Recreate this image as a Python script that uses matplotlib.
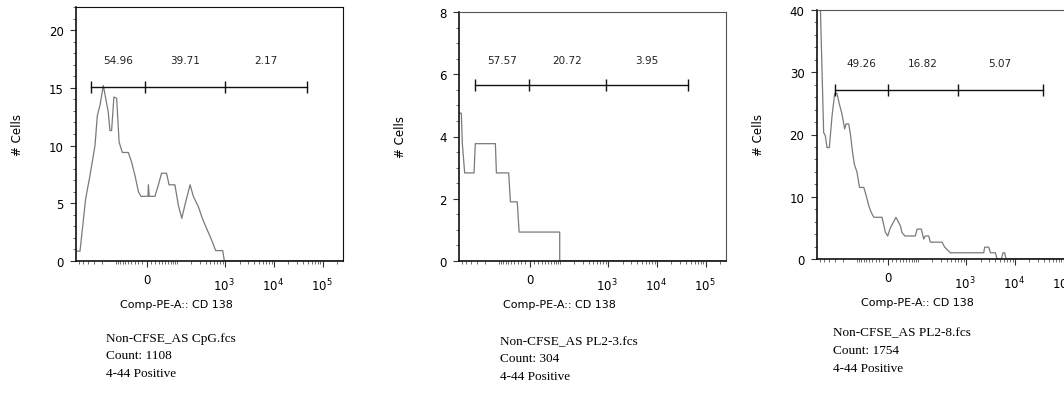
import numpy as np
import matplotlib
matplotlib.use("Agg")
import matplotlib.pyplot as plt
from matplotlib.ticker import FixedLocator, NullFormatter
from matplotlib.transforms import offset_copy

plt.rcParams['font.family'] = ['DejaVu Sans']
plt.rcParams['mathtext.fontset'] = 'dejavusans'

# ---- data (CD138 fluorescence, # cells) ----
cpg_x = [-700, -579, -443, -361, -284, -254, -223, -190, -149, -137, -126, -112, -97, -85,
         -71, -49, -38, -29, -20, -13.5, 0, 3, 4, 6, 20, 29, 38, 54, 63, 88, 106, 126, 153,
         190, 223, 284, 343, 422, 535, 647, 900, 975, 262144]
cpg_y = [0.85, 0.85, 5.4, 7.4, 10.0, 12.6, 13.5, 15.2, 12.9, 11.3, 11.3, 14.2, 14.1, 10.3,
         9.4, 9.4, 8.5, 7.4, 6.0, 5.6, 5.6, 5.6, 6.6, 5.6, 5.6, 6.6, 7.6, 7.6, 6.6, 6.6, 4.8,
         3.7, 5.1, 6.6, 5.6, 4.7, 3.7, 2.8, 1.8, 0.9, 0.9, 0, 0]

pl23_x = [-700, -627, -598, -535, -343, -323, -121, -115, -58, -52, -31, -26, 97, 97, 262144]
pl23_y = [4.75, 4.75, 3.77, 2.83, 2.83, 3.77, 3.77, 2.83, 2.83, 1.9, 1.9, 0.93, 0.93, 0, 0]

pl28_x = [-618, -511, -472, -436, -390, -343, -302, -271, -242, -213, -187, -175, -153, -141,
          -126, -115, -100, -88, -69, -60, -51, -43, -35, -13.5, -5.5, 0, 6.3, 20, 32, 36, 45,
          85, 94, 117, 132, 143, 169, 184, 323, 366, 479, 2315, 2425, 2930, 3170, 4015, 4340,
          5330, 5760, 6235, 6640, 262144]
pl28_y = [45, 20.3, 19.8, 17.9, 17.9, 23.0, 26.6, 26.6, 24.9, 23.3, 20.9, 21.7, 21.7, 20.1,
          17.1, 15.2, 13.9, 11.5, 11.5, 10.2, 8.6, 7.5, 6.7, 6.7, 4.3, 3.7, 5.0, 6.7, 5.3, 4.3,
          3.7, 3.7, 4.8, 4.8, 3.2, 3.7, 3.7, 2.7, 2.7, 1.9, 1.0, 1.0, 1.9, 1.9, 1.0, 1.0, 0,
          0, 1.0, 1.0, 0, 0]

gates_cpg = [-348, -4.7, 991, 47500]
gates_pl23 = [-333, -2.4, 900, 43100]
gates_pl28 = [-302, 0, 677, 37400]

pct_cpg = ["54.96", "39.71", "2.17"]
pct_pl23 = ["57.57", "20.72", "3.95"]
pct_pl28 = ["49.26", "16.82", "5.07"]

files = ["Non-CFSE_AS CpG.fcs", "Non-CFSE_AS PL2-3.fcs", "Non-CFSE_AS PL2-8.fcs"]
counts = [1108, 304, 1754]

decades = [1e3, 1e4, 1e5]
decade_labels = ['$10^3$', '$10^4$', '$10^5$']

# ---- biexponential-like display transform ----
W = 50.0


def fwd(x):
    return np.arcsinh(np.asarray(x, dtype=float) / W)


def inv(u):
    return W * np.sinh(np.asarray(u, dtype=float))


minor_x = []
for n in range(1, 5):
    for k in range(1, 10):
        minor_x.append(k * 10 ** n)
        if k * 10 ** n < 700:
            minor_x.append(-k * 10 ** n)
minor_x += [100000, 200000]

panels = [
    dict(pos=[76, 8, 267, 254], x=cpg_x, y=cpg_y, ymax=22, ymaj=5, ymin=1,
         gates=gates_cpg, gy=15.1, pct=pct_cpg, ty=17.4, spine='#111111',
         txt=(106, [339, 356, 374])),
    dict(pos=[459, 13, 267, 249], x=pl23_x, y=pl23_y, ymax=8, ymaj=2, ymin=0.5,
         gates=gates_pl23, gy=5.65, pct=pct_pl23, ty=6.46, spine='#555555',
         txt=(500, [342, 359, 377])),
    dict(pos=[817, 11, 267, 249], x=pl28_x, y=pl28_y, ymax=40, ymaj=10, ymin=2,
         gates=gates_pl28, gy=27.1, pct=pct_pl28, ty=31.5, spine='#555555',
         txt=(833, [333, 351, 369])),
]

FW, FH = 1064, 410
fig = plt.figure(figsize=(FW / 100, FH / 100), dpi=100)

for i, p in enumerate(panels):
    l, t, w, h = p['pos']
    ax = fig.add_axes([l / FW, 1 - (t + h) / FH, w / FW, h / FH])
    ax.set_xscale('function', functions=(fwd, inv))
    ax.set_xlim(-700, 262144)
    ax.set_ylim(0, p['ymax'])

    ax.plot(p['x'], p['y'], color='#7a7a7a', lw=0.9)

    # gate bar with end ticks
    g = p['gates']
    ax.plot(g, [p['gy']] * len(g), color='#111111', lw=1.0, marker='|', ms=8, mew=1.0)
    for j, lab in enumerate(p['pct']):
        cx = inv((fwd(g[j]) + fwd(g[j + 1])) / 2)
        ax.text(cx, p['ty'], lab, ha='center', va='center', fontsize=7.5, color='#222222')

    ax.xaxis.set_major_locator(FixedLocator([0] + decades))
    ax.set_xticklabels(['0', '', '', ''])
    # decade labels sit a bit lower than the "0" label, as in FlowJo
    lab_tr = offset_copy(ax.get_xaxis_transform(), fig=fig, x=-1, y=-16, units='dots')
    for xv, lab in zip(decades, decade_labels):
        ax.text(xv, 0, lab, transform=lab_tr, ha='center', va='top', fontsize=8.5,
                clip_on=False)
    ax.xaxis.set_minor_locator(FixedLocator(minor_x))
    ax.xaxis.set_minor_formatter(NullFormatter())
    ax.yaxis.set_major_locator(FixedLocator(np.arange(0, p['ymax'] + 0.01, p['ymaj'])))
    ax.yaxis.set_minor_locator(FixedLocator(np.arange(0, p['ymax'] + 0.01, p['ymin'])))

    ax.tick_params(axis='both', which='major', direction='out', length=4, width=0.8,
                   labelsize=8.5, color='#333333')
    ax.tick_params(axis='both', which='minor', direction='out', length=2, width=0.6,
                   color='#555555')
    ax.tick_params(axis='y', which='major', pad=5)
    ax.tick_params(axis='x', which='major', pad=5)

    for s in ['top', 'right']:
        ax.spines[s].set_color(p['spine'])
    for s in ['left', 'bottom']:
        ax.spines[s].set_color('#111111')
        ax.spines[s].set_linewidth(1.2)

    ax.set_ylabel('# Cells', fontsize=8.5)
    ax.yaxis.set_label_coords(-52 / w, 0.5)
    ax.set_xlabel('Comp-PE-A:: CD 138', fontsize=8)
    ax.xaxis.set_label_coords(0.375, -38 / h)

    tx, ys = p['txt']
    lines = [files[i], "Count: %d" % counts[i], "4-44 Positive"]
    for line, yy in zip(lines, ys):
        fig.text(tx / FW, 1 - yy / FH, line, family='Liberation Serif', fontsize=9.5,
                 va='center', ha='left')

fig.savefig('out.png', dpi=100)
